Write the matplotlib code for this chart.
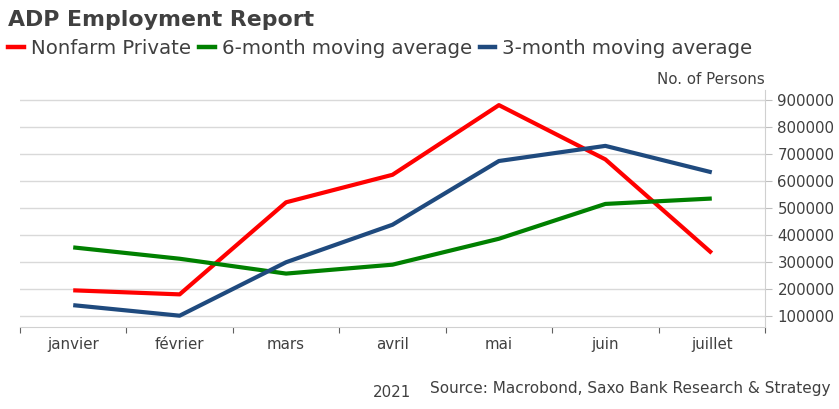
import numpy as np
import matplotlib.pyplot as plt
from matplotlib.lines import Line2D

months = ['janvier', 'février', 'mars', 'avril', 'mai', 'juin', 'juillet']
nonfarm = [195000, 180000, 521000, 623000, 881000, 680000, 333000]
ma6 = [354000, 312000, 257000, 290000, 386000, 515000, 535000]
ma3 = [140000, 101000, 299000, 438000, 674000, 730000, 632000]

red = '#ff0000'
green = '#008000'
blue = '#1f4a7e'
txt = '#404040'
grid = '#d9d9d9'

plt.rcParams['font.family'] = 'DejaVu Sans'

fig = plt.figure(figsize=(8.39, 4.09), dpi=100)
ax = fig.add_axes([20 / 839, 1 - 326.5 / 409, 745 / 839, 236.5 / 409])

x = np.arange(len(months))
ax.plot(x, nonfarm, color=red, lw=3, solid_capstyle='butt')
ax.plot(x, ma6, color=green, lw=3, solid_capstyle='butt')
ax.plot(x, ma3, color=blue, lw=3, solid_capstyle='butt')

ax.set_xlim(-0.5, len(months) - 0.5)
ax.set_ylim(61000, 937000)
ax.set_yticks(np.arange(100000, 900001, 100000))
ax.set_yticklabels([f'{v}' for v in range(100000, 900001, 100000)])
ax.yaxis.tick_right()
ax.tick_params(axis='y', colors=txt, labelsize=10.8, length=5, color='#bfbfbf', pad=4)
ax.grid(axis='y', color=grid, lw=1)
ax.set_axisbelow(True)

ax.set_xticks(np.arange(-0.5, len(months), 1))
ax.set_xticklabels([])
ax.set_xticks(x, minor=True)
ax.set_xticklabels(months, minor=True)
ax.tick_params(axis='x', which='major', length=4, color='#606060', width=0.8)
ax.tick_params(axis='x', which='minor', length=0, colors=txt, labelsize=10.8, pad=7.5)

for s in ['top', 'left']:
    ax.spines[s].set_visible(False)
ax.spines['right'].set_color('#d0d0d0')
ax.spines['bottom'].set_color('#d0d0d0')

ax.text(3, -0.277, '2021', transform=ax.get_xaxis_transform(), ha='center', va='center',
        color=txt, fontsize=10.8)

fig.text(8 / 839, 1 - 20 / 409, 'ADP Employment Report', fontsize=15.8, fontweight='bold',
         color=txt, va='center', ha='left')

handles = [Line2D([], [], color=c, lw=3.2) for c in (red, green, blue)]
fig.legend(handles, ['Nonfarm Private', '6-month moving average', '3-month moving average'],
           loc='center left', bbox_to_anchor=(0.003, 1 - 48 / 409), ncol=3, frameon=False,
           fontsize=14.2, handlelength=0.8, handletextpad=0.35, columnspacing=0.4,
           borderaxespad=0, borderpad=0.3, labelcolor=txt)

fig.text(765 / 839, 1 - 79 / 409, 'No. of Persons', ha='right', va='center',
         color=txt, fontsize=10.8)
fig.text(830 / 839, 1 - 388 / 409, 'Source: Macrobond, Saxo Bank Research & Strategy',
         ha='right', va='center', color=txt, fontsize=10.95)

fig.savefig('out.png', dpi=100)
